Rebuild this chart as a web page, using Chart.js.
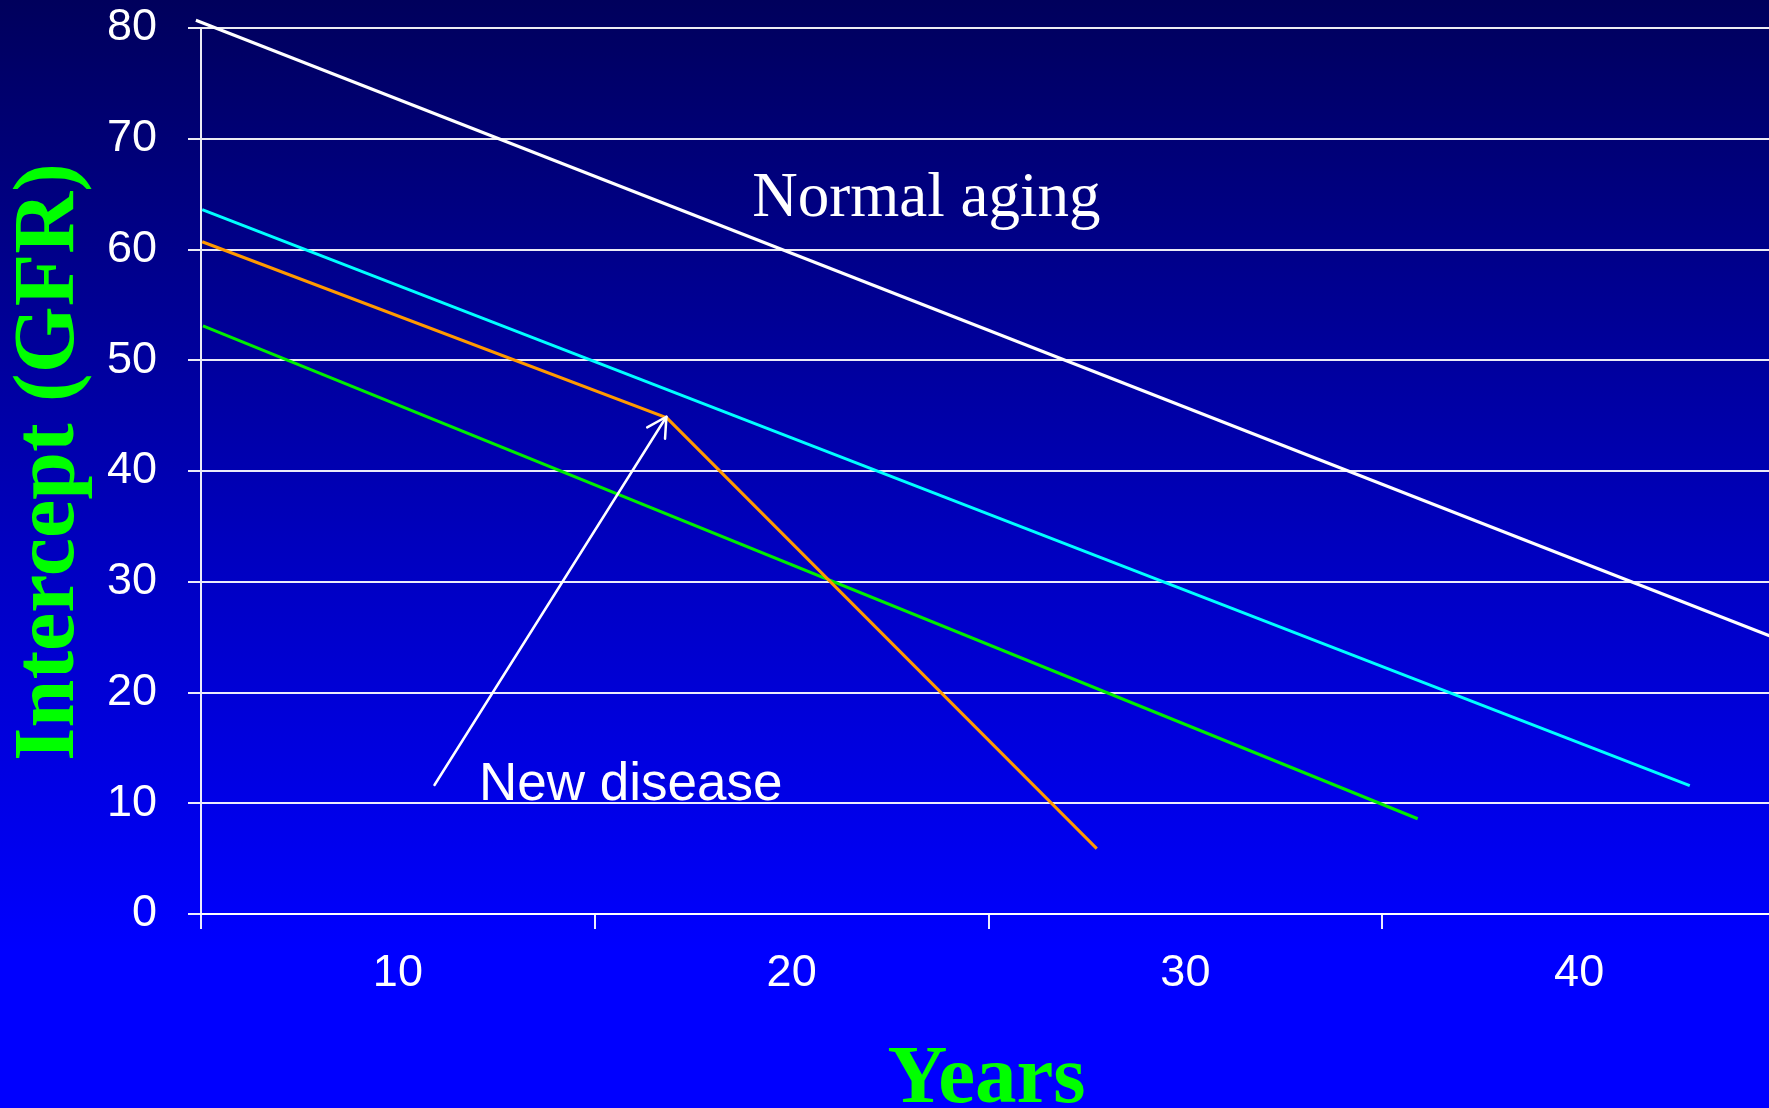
<!DOCTYPE html>
<html>
<head>
<meta charset="utf-8">
<title>GFR decline over time</title>
<script src="https://cdn.jsdelivr.net/npm/chart.js@4.4.1/dist/chart.umd.min.js"></script>
<style>
  html, body { margin: 0; padding: 0; overflow: hidden; background: #0000ff; }
  #frame {
    position: relative; width: 1769px; height: 1108px; overflow: hidden;
    background: linear-gradient(to bottom, #00005c 0%, #0000c0 50%, #0000ff 86%, #0000ff 100%);
  }
  canvas { display: block; }
</style>
</head>
<body>
<div id="frame"><canvas id="gfr" width="1800" height="1108"></canvas></div>
<script>
// GFR courses: years on x, intercept (GFR) on y
const normalAgingYears = [4.87, 44.85];
const normalAgingGfr   = [80.7, 25.1];

const upperCourseYears = [5.03, 42.81];
const upperCourseGfr   = [63.6, 11.6];

const lowerCourseYears = [5.05, 35.9];
const lowerCourseGfr   = [53.1, 8.6];

const newDiseaseYears  = [5.03, 16.83, 27.75];
const newDiseaseGfr    = [60.7, 44.8, 5.9];

// arrow from the caption to the onset of the new disease
const arrowYears = [10.93, 16.82];
const arrowGfr   = [11.65, 44.9];

// axes
const yTickValues = [0, 10, 20, 30, 40, 50, 60, 70, 80];
const xTickLabels = [10, 20, 30, 40];
const xTickMarks  = [5, 15, 25, 35, 45];

const points = (xs, ys) => xs.map((v, i) => ({ x: v, y: ys[i] }));

const WHITE = '#ffffff';
const GRID = 'rgba(255,255,255,0.92)';
const GREEN_TEXT = '#00ff00';
const SANS = '"Liberation Sans", Arial, sans-serif';
const SERIF = '"Liberation Serif", "Times New Roman", serif';

const lineStyle = (color) => ({
  borderColor: color, backgroundColor: color, borderWidth: 3,
  pointRadius: 0, pointHoverRadius: 0, tension: 0, fill: false, clip: false
});

// captions, arrow and axis titles
const overlay = {
  id: 'overlay',
  afterDatasetsDraw(chart) {
    const { ctx, chartArea, scales: { x, y } } = chart;
    ctx.save();

    const x0 = x.getPixelForValue(arrowYears[0]), y0 = y.getPixelForValue(arrowGfr[0]);
    const x1 = x.getPixelForValue(arrowYears[1]), y1 = y.getPixelForValue(arrowGfr[1]);
    ctx.strokeStyle = WHITE;
    ctx.lineWidth = 2.5;
    ctx.lineCap = 'round';
    ctx.lineJoin = 'round';
    ctx.beginPath();
    ctx.moveTo(x0, y0);
    ctx.lineTo(x1, y1);
    ctx.stroke();
    const ang = Math.atan2(y1 - y0, x1 - x0), head = 22, spread = 0.5;
    ctx.beginPath();
    ctx.moveTo(x1 - head * Math.cos(ang - spread), y1 - head * Math.sin(ang - spread));
    ctx.lineTo(x1, y1);
    ctx.lineTo(x1 - head * Math.cos(ang + spread), y1 - head * Math.sin(ang + spread));
    ctx.stroke();

    ctx.fillStyle = WHITE;
    ctx.textAlign = 'left';
    ctx.textBaseline = 'alphabetic';
    ctx.font = '63px ' + SERIF;
    ctx.fillText('Normal aging', x.getPixelForValue(19.0), y.getPixelForValue(63));
    ctx.font = '53px ' + SANS;
    ctx.fillText('New disease', x.getPixelForValue(12.06), y.getPixelForValue(10.3));

    ctx.fillStyle = GREEN_TEXT;
    ctx.textAlign = 'center';
    ctx.font = 'bold 83px ' + SERIF;
    ctx.fillText('Years', (chartArea.left + chartArea.right) / 2 - 2, 1102);
    ctx.font = 'bold 86px ' + SERIF;
    ctx.translate(73, 462);
    ctx.rotate(-Math.PI / 2);
    ctx.fillText('Intercept (GFR)', 0, 0);
    ctx.restore();
  }
};

function draw() {
  new Chart(document.getElementById('gfr'), {
    type: 'line',
    data: {
      datasets: [
        { label: 'Normal aging', data: points(normalAgingYears, normalAgingGfr), ...lineStyle('#ffffff') },
        { label: 'Upper course', data: points(upperCourseYears, upperCourseGfr), ...lineStyle('#00ffff') },
        { label: 'New disease', data: points(newDiseaseYears, newDiseaseGfr), ...lineStyle('#ff9900') },
        { label: 'Lower course', data: points(lowerCourseYears, lowerCourseGfr), ...lineStyle('#00ee00') }
      ]
    },
    options: {
      responsive: false,
      animation: false,
      events: [],
      layout: { padding: { left: 0, top: 28, right: 24, bottom: 0 } },
      plugins: { legend: { display: false }, tooltip: { enabled: false } },
      scales: {
        x: {
          type: 'linear',
          min: xTickMarks[0],
          max: xTickMarks[xTickMarks.length - 1],
          afterFit: (s) => { s.height = 194; s.paddingLeft = 0; s.paddingRight = 0; },
          afterBuildTicks: (s) => {
            s.ticks = [...xTickMarks, ...xTickLabels].sort((a, b) => a - b).map(v => ({ value: v }));
          },
          ticks: {
            autoSkip: false, maxRotation: 0, padding: 18, color: WHITE,
            font: { family: SANS, size: 45 },
            callback: (v) => xTickLabels.includes(v) ? String(v) : ''
          },
          grid: {
            drawOnChartArea: false, tickLength: 15, lineWidth: 2,
            color: (c) => (c.tick && xTickMarks.includes(c.tick.value)) ? GRID : 'rgba(0,0,0,0)'
          },
          border: { display: true, color: GRID, width: 2 }
        },
        y: {
          type: 'linear',
          min: yTickValues[0],
          max: yTickValues[yTickValues.length - 1],
          afterFit: (s) => { s.width = 201; s.paddingTop = 0; s.paddingBottom = 0; },
          afterBuildTicks: (s) => { s.ticks = yTickValues.map(v => ({ value: v })); },
          ticks: {
            padding: 31, color: WHITE,
            font: { family: SANS, size: 45 }
          },
          grid: { color: GRID, lineWidth: 2, tickLength: 13 },
          border: { display: true, color: GRID, width: 2 }
        }
      }
    },
    plugins: [overlay]
  });
}

Promise.all([
  document.fonts.load('45px "Liberation Sans"'),
  document.fonts.load('63px "Liberation Serif"'),
  document.fonts.load('bold 86px "Liberation Serif"')
]).then(draw, draw);
</script>
</body>
</html>
